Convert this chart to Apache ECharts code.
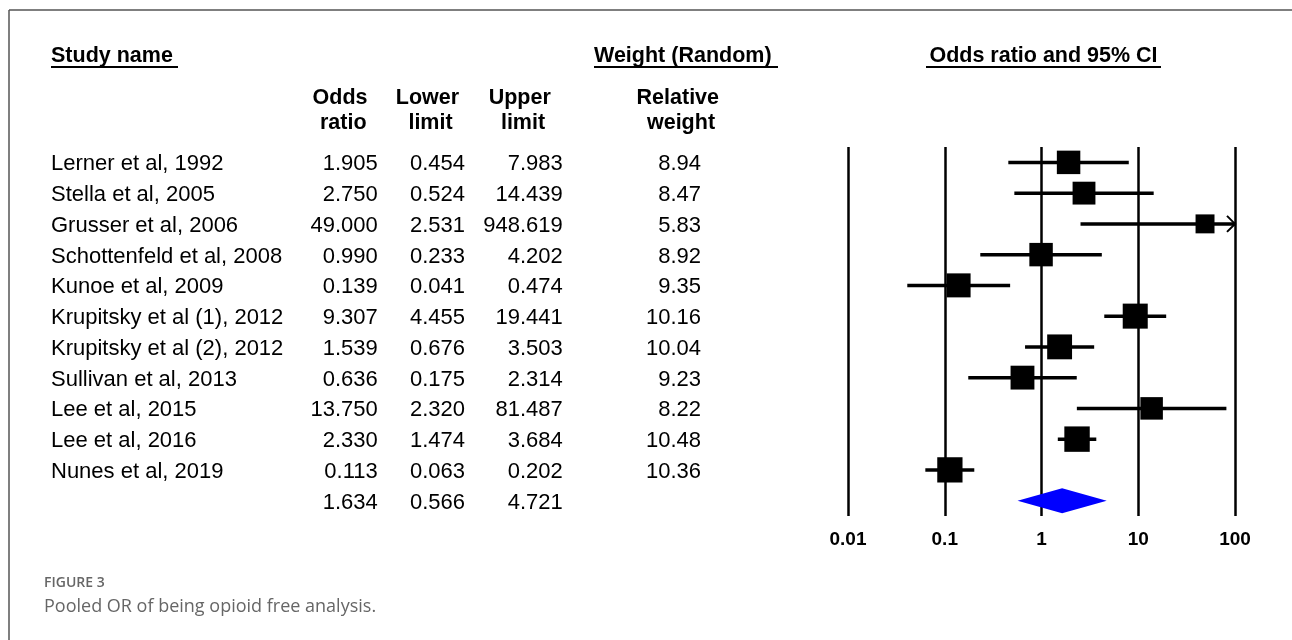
<!DOCTYPE html>
<html>
<head>
<meta charset="utf-8">
<script src="https://cdn.jsdelivr.net/npm/echarts@6/dist/echarts.min.js"></script>
<style>
  html, body { margin: 0; padding: 0; background: #fff; }
  #chart { width: 1292px; height: 640px; }
</style>
</head>
<body>
<div id="chart"></div>
<script>
// Forest plot: studies of opioid-free outcome, odds ratio with 95% CI (random effects)
const studies = [
  'Lerner et al, 1992', 'Stella et al, 2005', 'Grusser et al, 2006',
  'Schottenfeld et al, 2008', 'Kunoe et al, 2009', 'Krupitsky et al (1), 2012',
  'Krupitsky et al (2), 2012', 'Sullivan et al, 2013', 'Lee et al, 2015',
  'Lee et al, 2016', 'Nunes et al, 2019'
];
const oddsRatio  = [1.905, 2.750, 49.000, 0.990, 0.139, 9.307, 1.539, 0.636, 13.750, 2.330, 0.113];
const lowerLimit = [0.454, 0.524, 2.531, 0.233, 0.041, 4.455, 0.676, 0.175, 2.320, 1.474, 0.063];
const upperLimit = [7.983, 14.439, 948.619, 4.202, 0.474, 19.441, 3.503, 2.314, 81.487, 3.684, 0.202];
const relWeight  = [8.94, 8.47, 5.83, 8.92, 9.35, 10.16, 10.04, 9.23, 8.22, 10.48, 10.36];
// pooled estimate: odds ratio, lower limit, upper limit
const pooledEstimate = [1.634, 0.566, 4.721];
const tickLabels = ['0.01', '0.1', '1', '10', '100'];

const TXT = '"Liberation Sans", Arial, sans-serif';
const fontReg = '22px ' + TXT;
const fontBold = 'bold 21.5px ' + TXT;
const ROW_TEXT_SHIFT = 2;

const studyRows = studies.map((s, i) => [i, oddsRatio[i], lowerLimit[i], upperLimit[i], relWeight[i]]);
const pooledRow = [[studies.length, pooledEstimate[0], pooledEstimate[1], pooledEstimate[2]]];
const tableRows = studies.map((s, i) => [1, i]).concat([[1, studies.length]]);

function txt(x, y, text, font, align) {
  return {
    type: 'text',
    style: {
      x: x, y: y, text: text, font: font, fill: '#000',
      align: align, textAlign: align,
      verticalAlign: 'middle', textVerticalAlign: 'middle'
    }
  };
}

const chart = echarts.init(document.getElementById('chart'), null, { renderer: 'canvas' });

chart.setOption({
  animation: false,
  backgroundColor: '#fff',
  grid: { left: 848, top: 147, width: 387, height: 369 },
  xAxis: {
    type: 'log',
    logBase: 10,
    min: 0.01,
    max: 100,
    axisLine: { show: false },
    axisTick: { show: false },
    splitLine: { show: true, showMinLine: true, showMaxLine: true, lineStyle: { color: '#000', width: 2.5 } },
    axisLabel: {
      color: '#000',
      fontFamily: TXT,
      fontWeight: 'bold',
      fontSize: 19,
      margin: 14,
      formatter: v => tickLabels[Math.round(Math.log10(v)) + 2]
    }
  },
  yAxis: { type: 'value', min: -0.5, max: 11.5, inverse: true, show: false },
  graphic: [
    // frame
    { type: 'line', shape: { x1: 9, y1: 10, x2: 1292, y2: 10 }, style: { stroke: '#555', lineWidth: 1.5 } },
    { type: 'line', shape: { x1: 9, y1: 10, x2: 9, y2: 640 }, style: { stroke: '#555', lineWidth: 1.5 } },
    // section headers
    { type: 'text', style: { x: 51, y: 56, text: 'Study name', font: fontBold, fill: '#000', textAlign: 'left', textVerticalAlign: 'middle' } },
    { type: 'line', shape: { x1: 51, y1: 67, x2: 178, y2: 67 }, style: { stroke: '#000', lineWidth: 2 } },
    { type: 'text', style: { x: 594, y: 56, text: 'Weight (Random)', font: fontBold, fill: '#000', textAlign: 'left', textVerticalAlign: 'middle' } },
    { type: 'line', shape: { x1: 594, y1: 67, x2: 778, y2: 67 }, style: { stroke: '#000', lineWidth: 2 } },
    { type: 'text', style: { x: 1043.5, y: 56, text: 'Odds ratio and 95% CI', font: fontBold, fill: '#000', textAlign: 'center', textVerticalAlign: 'middle' } },
    { type: 'line', shape: { x1: 926, y1: 67, x2: 1161, y2: 67 }, style: { stroke: '#000', lineWidth: 2 } },
    // column headers
    { type: 'text', style: { x: 340, y: 98, text: 'Odds', font: fontBold, fill: '#000', textAlign: 'center', textVerticalAlign: 'middle' } },
    { type: 'text', style: { x: 343.3, y: 123, text: 'ratio', font: fontBold, fill: '#000', textAlign: 'center', textVerticalAlign: 'middle' } },
    { type: 'text', style: { x: 427.5, y: 98, text: 'Lower', font: fontBold, fill: '#000', textAlign: 'center', textVerticalAlign: 'middle' } },
    { type: 'text', style: { x: 430.5, y: 123, text: 'limit', font: fontBold, fill: '#000', textAlign: 'center', textVerticalAlign: 'middle' } },
    { type: 'text', style: { x: 519.7, y: 98, text: 'Upper', font: fontBold, fill: '#000', textAlign: 'center', textVerticalAlign: 'middle' } },
    { type: 'text', style: { x: 523, y: 123, text: 'limit', font: fontBold, fill: '#000', textAlign: 'center', textVerticalAlign: 'middle' } },
    { type: 'text', style: { x: 677.8, y: 98, text: 'Relative', font: fontBold, fill: '#000', textAlign: 'center', textVerticalAlign: 'middle' } },
    { type: 'text', style: { x: 681, y: 123, text: 'weight', font: fontBold, fill: '#000', textAlign: 'center', textVerticalAlign: 'middle' } },
    // caption
    { type: 'text', style: { x: 44, y: 583, text: 'FIGURE 3', font: '600 14px "Open Sans", sans-serif', fill: '#666', textAlign: 'left', textVerticalAlign: 'middle' } },
    { type: 'text', style: { x: 44, y: 607, text: 'Pooled OR of being opioid free analysis.', font: '18px "Open Sans", sans-serif', fill: '#666', textAlign: 'left', textVerticalAlign: 'middle' } }
  ],
  series: [
    {
      // numeric table next to the plot, one line per row of the y scale
      type: 'custom',
      name: 'table',
      silent: true,
      clip: false,
      encode: { x: 0, y: 1 },
      data: tableRows,
      renderItem: function (params, api) {
        const i = api.value(1);
        const y = api.coord([1, i])[1] + ROW_TEXT_SHIFT;
        const children = [];
        if (i < studies.length) {
          children.push(txt(51, y, studies[i], fontReg, 'left'));
          children.push(txt(377.7, y, oddsRatio[i].toFixed(3), fontReg, 'right'));
          children.push(txt(465, y, lowerLimit[i].toFixed(3), fontReg, 'right'));
          children.push(txt(562.7, y, upperLimit[i].toFixed(3), fontReg, 'right'));
          children.push(txt(701, y, relWeight[i].toFixed(2), fontReg, 'right'));
        } else {
          children.push(txt(377.7, y, pooledEstimate[0].toFixed(3), fontReg, 'right'));
          children.push(txt(465, y, pooledEstimate[1].toFixed(3), fontReg, 'right'));
          children.push(txt(562.7, y, pooledEstimate[2].toFixed(3), fontReg, 'right'));
        }
        return { type: 'group', children: children };
      }
    },
    {
      // study odds ratios: CI whisker + square sized by weight
      type: 'custom',
      name: 'studies',
      clip: false,
      encode: { x: [1, 2, 3], y: 0 },
      data: studyRows,
      renderItem: function (params, api) {
        const cs = params.coordSys;
        const rightEdge = cs.x + cs.width;
        const row = api.value(0);
        const c = api.coord([api.value(1), row]);
        const lo = api.coord([api.value(2), row]);
        const hi = api.coord([api.value(3), row]);
        const clipped = hi[0] > rightEdge;
        const xHi = clipped ? rightEdge : hi[0];
        const side = 7.85 * Math.sqrt(api.value(4));
        const children = [
          { type: 'line', shape: { x1: lo[0], y1: c[1], x2: xHi, y2: c[1] }, style: { stroke: '#000', lineWidth: 3.5 } },
          { type: 'rect', shape: { x: c[0] - side / 2, y: c[1] - side / 2, width: side, height: side }, style: { fill: '#000' } }
        ];
        if (clipped) {
          children.push({
            type: 'polyline',
            shape: { points: [[xHi - 8, c[1] - 8], [xHi, c[1]], [xHi - 8, c[1] + 8]] },
            style: { stroke: '#000', lineWidth: 2, fill: null }
          });
        }
        return { type: 'group', children: children };
      }
    },
    {
      // pooled estimate diamond
      type: 'custom',
      name: 'pooled',
      clip: false,
      encode: { x: [1, 2, 3], y: 0 },
      data: pooledRow,
      renderItem: function (params, api) {
        const row = api.value(0);
        const c = api.coord([api.value(1), row]);
        const lo = api.coord([api.value(2), row]);
        const hi = api.coord([api.value(3), row]);
        const h = 12.5;
        return {
          type: 'polygon',
          shape: { points: [[lo[0], c[1]], [c[0], c[1] - h], [hi[0], c[1]], [c[0], c[1] + h]] },
          style: { fill: '#0000ff' }
        };
      }
    }
  ]
});
</script>
</body>
</html>
